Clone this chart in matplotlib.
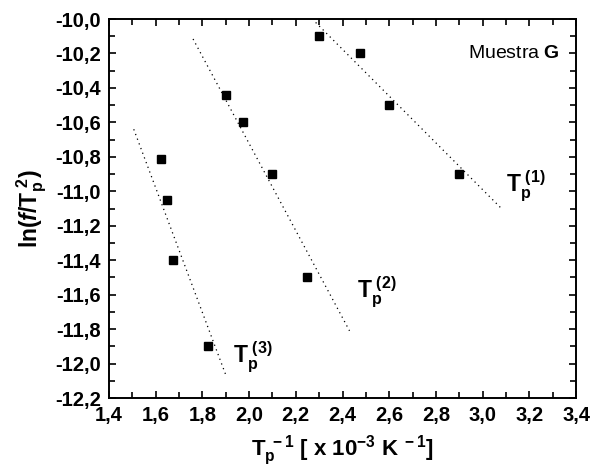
import matplotlib
matplotlib.use('Agg')
import matplotlib.pyplot as plt
from matplotlib.ticker import MultipleLocator, FuncFormatter

plt.rcParams['font.family'] = ['Liberation Sans', 'DejaVu Sans']
plt.rcParams['font.weight'] = 'bold'
plt.rcParams['mathtext.fontset'] = 'custom'
plt.rcParams['mathtext.rm'] = 'Liberation Sans:bold'
plt.rcParams['mathtext.bf'] = 'Liberation Sans:bold'
plt.rcParams['mathtext.it'] = 'Liberation Sans:bold:italic'

# data points (x = 1/Tp [1e-3 K^-1], y = ln(f/Tp^2))
x1 = [2.30, 2.475, 2.60, 2.90]
y1 = [-10.10, -10.20, -10.50, -10.90]
x2 = [1.90, 1.975, 2.10, 2.25]
y2 = [-10.44, -10.60, -10.90, -11.50]
x3 = [1.623, 1.648, 1.674, 1.824]
y3 = [-10.81, -11.05, -11.40, -11.90]

# dotted fit lines (endpoints)
fit1_x = [2.285, 3.077]
fit1_y = [-10.02, -11.095]
fit2_x = [1.76, 2.43]
fit2_y = [-10.116, -11.81]
fit3_x = [1.506, 1.904]
fit3_y = [-10.64, -12.08]

fig = plt.figure(figsize=(5.92, 4.70), dpi=100)
ax = fig.add_axes([109 / 592, 1 - 398 / 470, (576 - 109) / 592, (398 - 19) / 470])

for fx, fy in [(fit1_x, fit1_y), (fit2_x, fit2_y), (fit3_x, fit3_y)]:
    ax.plot(fx, fy, color='black', linestyle=(0, (1, 3)), linewidth=0.9)
for xs, ys in [(x1, y1), (x2, y2), (x3, y3)]:
    ax.plot(xs, ys, 's', color='black', markersize=5.8)

ax.set_xlim(1.4, 3.4)
ax.set_ylim(-12.2, -10.0)
ax.xaxis.set_major_locator(MultipleLocator(0.2))
ax.xaxis.set_minor_locator(MultipleLocator(0.1))
ax.yaxis.set_major_locator(MultipleLocator(0.2))
ax.yaxis.set_minor_locator(MultipleLocator(0.1))
comma = FuncFormatter(lambda v, p: ('%.1f' % v).replace('.', ','))
ax.xaxis.set_major_formatter(comma)
ax.yaxis.set_major_formatter(comma)
ax.tick_params(which='both', direction='in', top=True, right=True, width=1.2,
               labelsize=14.5)
ax.tick_params(which='major', length=5)
ax.tick_params(which='minor', length=4)
ax.tick_params(axis='y', pad=6)
ax.tick_params(axis='x', pad=6)
for s in ax.spines.values():
    s.set_linewidth(1.4)

ax.set_xlabel(r'$\mathregular{T_p^{\ -1}}$ [ x 10$^{\mathregular{-3}}$ K$^{\mathregular{\ -1}}$]',
              fontsize=16, fontweight='bold', labelpad=6)
ax.set_ylabel(r'ln($f$/$\mathregular{T_p^{\ 2}}$)', fontsize=16.5, fontweight='bold', labelpad=4)

ax.text(3.33, -10.2, r'Muestra $\mathbf{G}$', ha='right', va='center', fontsize=14,
        fontweight='normal')
ax.text(3.1, -10.97, r'$\mathregular{T_p^{\ (1)}}$', fontsize=16.5, ha='left', va='center')
ax.text(2.46, -11.58, r'$\mathregular{T_p^{\ (2)}}$', fontsize=16.5, ha='left', va='center')
ax.text(1.93, -11.96, r'$\mathregular{T_p^{\ (3)}}$', fontsize=16.5, ha='left', va='center')

fig.savefig('out.png', dpi=100)
